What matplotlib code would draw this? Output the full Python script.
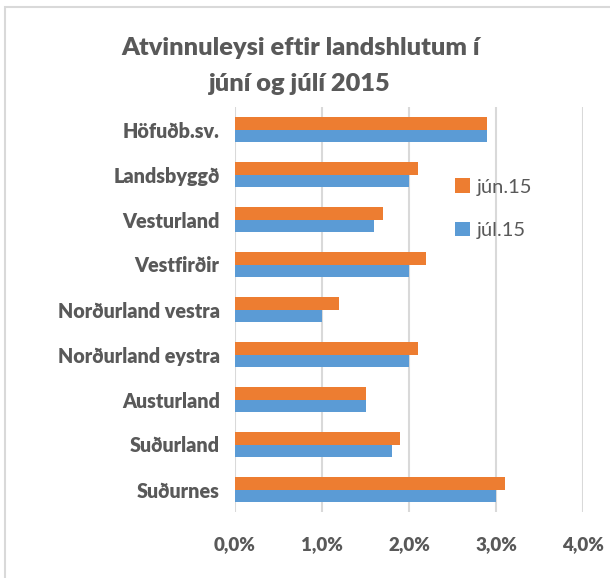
import matplotlib.pyplot as plt
from matplotlib.ticker import FuncFormatter
from matplotlib.patches import Rectangle
import numpy as np

plt.rcParams['font.family'] = ['Lato', 'DejaVu Sans']

# data, top to bottom as in the chart
regions = ["Höfuðb.sv.", "Landsbyggð", "Vesturland", "Vestfirðir",
           "Norðurland vestra", "Norðurland eystra", "Austurland",
           "Suðurland", "Suðurnes"]
jun15 = [2.9, 2.1, 1.7, 2.2, 1.2, 2.1, 1.5, 1.9, 3.1]
jul15 = [2.9, 2.0, 1.6, 2.0, 1.0, 2.0, 1.5, 1.8, 3.0]
series_labels = ["jún.15", "júl.15"]
xticks = [0, 1, 2, 3, 4]

ORANGE = "#ed7d31"
BLUE = "#5b9bd5"
GRAY = "#595959"
GRID = "#d9d9d9"
W = "heavy"

fig = plt.figure(figsize=(6.10, 5.78), dpi=100)
# outer chart border (light gray, runs off right/bottom edge)
fig.patches.append(Rectangle((5 / 610, -0.1), 1.2, 1 - 7.5 / 578 + 0.1,
                             transform=fig.transFigure, fill=False,
                             edgecolor="#d9d9d9", linewidth=1.5))

ax = fig.add_axes([235 / 610, 1 - 512 / 578, (583 - 235) / 610, (512 - 107) / 578])

y = np.arange(len(regions))
h = 0.267
b1 = ax.barh(y - h / 2, jun15, height=h, color=ORANGE, label=series_labels[0], zorder=3)
b2 = ax.barh(y + h / 2, jul15, height=h, color=BLUE, label=series_labels[1], zorder=3)

ax.set_ylim(len(regions) - 0.5, -0.5)
ax.set_xlim(0, 4)
ax.set_xticks(xticks)
ax.xaxis.set_major_formatter(FuncFormatter(lambda v, p: f"{v:.1f}%".replace(".", ",")))
ax.set_yticks(y)
ax.set_yticklabels(regions)
ax.grid(axis="x", color=GRID, linewidth=1.5, zorder=0)
ax.tick_params(axis="both", length=0, colors=GRAY)
ax.tick_params(axis="x", pad=17, labelsize=13.5)
ax.tick_params(axis="y", pad=11, labelsize=14.2)
for lab in ax.get_xticklabels() + ax.get_yticklabels():
    lab.set_fontweight(W)
for s in ax.spines.values():
    s.set_visible(False)

fig.text(0.492, 1 - 48 / 578, "Atvinnuleysi eftir landshlutum í", ha="center", va="center",
         fontsize=18.3, fontweight=W, color=GRAY)
fig.text(0.492, 1 - 84 / 578, "júní og júlí 2015", ha="center", va="center",
         fontsize=18.3, fontweight=W, color=GRAY)

fig.legend(handles=[b1, b2], loc="upper left", bbox_to_anchor=(437 / 610, 1 - 160 / 578),
           frameon=False, handlelength=0.75, handleheight=0.75, handletextpad=0.3,
           labelspacing=1.3, fontsize=14.5, labelcolor=GRAY)

fig.savefig("out.png", dpi=100, facecolor="white")
